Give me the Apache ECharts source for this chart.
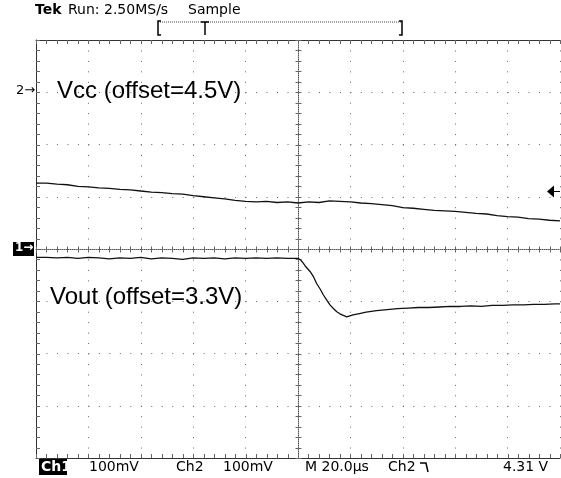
<!DOCTYPE html>
<html><head><meta charset="utf-8">
<script src="https://cdn.jsdelivr.net/npm/echarts@6/dist/echarts.min.js"></script>
<style>html,body{margin:0;padding:0;background:#fff}#c{width:561px;height:478px}</style>
</head><body><div id="c"></div>
<script>
// ---- data (time in microseconds, values in volts) ----
const vccTime = [-100,-96,-92,-88,-84,-80,-76,-72,-68,-64,-60,-56,-52,-48,-44,-40,-36,-32,-28,-24,-20,-16,-12,-8,-4,0,4,8,12,16,20,24,28,32,36,40,44,48,52,56,60,64,68,72,76,80,84,88,92,96,100];
const vccVolts = [4.326,4.326,4.324,4.323,4.320,4.319,4.317,4.316,4.314,4.313,4.311,4.309,4.308,4.306,4.305,4.302,4.300,4.298,4.296,4.293,4.291,4.290,4.291,4.289,4.290,4.288,4.290,4.289,4.292,4.291,4.290,4.288,4.287,4.285,4.283,4.279,4.278,4.276,4.274,4.273,4.272,4.270,4.268,4.267,4.264,4.262,4.261,4.258,4.257,4.255,4.254];
const voutTime = [-100,-96,-92,-88,-84,-80,-76,-72,-68,-64,-60,-56,-52,-48,-44,-40,-36,-32,-28,-24,-20,-16,-12,-8,-4,0,1,2,3,4.6,6,7.1,8.5,9.7,11,12.2,13.5,14.8,16,17.3,18.6,19.8,21,23,26,30,34,38,42,46,50,54,58,62,66,70,74,78,82,86,90,94,98,100];
const voutVolts = [3.284,3.284,3.283,3.284,3.282,3.284,3.283,3.281,3.283,3.282,3.284,3.281,3.283,3.282,3.280,3.283,3.282,3.283,3.281,3.283,3.282,3.283,3.282,3.283,3.282,3.282,3.279,3.273,3.266,3.257,3.246,3.234,3.223,3.212,3.202,3.193,3.186,3.180,3.176,3.173,3.170,3.172,3.174,3.176,3.179,3.182,3.184,3.186,3.187,3.188,3.188,3.189,3.190,3.190,3.191,3.190,3.192,3.192,3.193,3.193,3.194,3.194,3.195,3.195];
const timeRange = [-100, 100];     // 20 us/div, 10 div
const divRange = [-4, 4];          // 8 vertical divisions
const ch1Range = [2.9, 3.7];       // offset 3.3 V at centre, 100 mV/div
const ch2Range = [3.8, 4.6];       // offset 4.5 V at +3 div, 100 mV/div
const ch1Ref = 3.3, ch2Ref = 4.5, trigLevel = 4.31;
const minorPerDiv = 5;
const topTexts = {tek: 'Tek', run: 'Run: 2.50MS/s', mode: 'Sample'};
const bottomTexts = ['Ch1', '100mV', 'Ch2', '100mV', 'M 20.0\u00b5s', 'Ch2', '4.31 V'];
const traceLabels = ['Vcc (offset=4.5V)', 'Vout (offset=3.3V)'];

const GW = 524, GH = 418;
const chart = echarts.init(document.getElementById('c'));
const dark = '#333', dotc = '#666';
const F = 'DejaVu Sans';
const borderLine = {show:true, onZero:false, lineStyle:{color:dark, width:1}};
const centreLine = {show:true, onZero:false, lineStyle:{color:'#555', width:1, type:[1,1]}};
function xa(extra){ return Object.assign({type:'value', min:timeRange[0], max:timeRange[1], interval:20,
  axisLabel:{show:false}, axisTick:{show:false}, splitLine:{show:false}, axisLine:borderLine}, extra); }
function ya(extra){ return Object.assign({type:'value', min:divRange[0], max:divRange[1], interval:1,
  axisLabel:{show:false}, axisTick:{show:false}, splitLine:{show:false}, axisLine:borderLine}, extra); }

// graticule minor-tick positions (in axis units)
const xStep = (timeRange[1]-timeRange[0]) / 10 / minorPerDiv;
const yStep = 1 / minorPerDiv;
const xMinor = [], yMinor = [];
for (let i = 0; i <= 10*minorPerDiv; i++) xMinor.push([timeRange[0] + i*xStep, 0]);
for (let i = 0; i <= 8*minorPerDiv; i++) yMinor.push([0, divRange[0] + i*yStep]);
const ln = (x1,y1,x2,y2)=>({type:'line', shape:{x1,y1,x2,y2}, style:{stroke:dotc, lineWidth:1}});

chart.setOption({
  animation:false,
  backgroundColor:'#fff',
  grid:{left:36, top:40, width:GW, height:GH},
  xAxis:[
    xa({position:'bottom', splitLine:{show:true, lineStyle:{color:dotc, width:1, type:[1,9.45]}}}),
    xa({position:'top'}),
    xa({position:'bottom', offset:-GH/2, axisLine:centreLine})
  ],
  yAxis:[
    ya({position:'left', splitLine:{show:true, lineStyle:{color:dotc, width:1, type:[1,9.48]}}}),
    {type:'value', min:ch1Range[0], max:ch1Range[1], show:false},
    {type:'value', min:ch2Range[0], max:ch2Range[1], show:false},
    ya({position:'left', offset:-GW/2, axisLine:centreLine})
  ],
  series:[
    {type:'custom', xAxisIndex:0, yAxisIndex:0, clip:false, silent:true, data:xMinor,
     renderItem:(p, api)=>{
       const x = Math.round(api.coord([api.value(0), 0])[0]) + 0.5;
       const top = api.coord([timeRange[0], divRange[1]])[1], bot = api.coord([timeRange[0], divRange[0]])[1];
       const mid = api.coord([timeRange[0], 0])[1];
       return {type:'group', children:[ln(x, top, x, top+4), ln(x, bot, x, bot-4), ln(x, mid-2.5, x, mid+3.5)]};
     }},
    {type:'custom', xAxisIndex:0, yAxisIndex:0, clip:false, silent:true, data:yMinor,
     renderItem:(p, api)=>{
       const y = Math.round(api.coord([0, api.value(1)])[1]) + 0.5;
       const left = api.coord([timeRange[0], 0])[0], mid = api.coord([0, 0])[0];
       return {type:'group', children:[ln(left, y, left+4, y), ln(mid-2.5, y, mid+3.5, y)]};
     }},
    {type:'line', xAxisIndex:0, yAxisIndex:2, showSymbol:false, symbol:'none',
     lineStyle:{color:'#111', width:1.3}, data:vccTime.map((t,i)=>[t, vccVolts[i]])},
    {type:'line', xAxisIndex:0, yAxisIndex:1, showSymbol:false, symbol:'none',
     lineStyle:{color:'#111', width:1.3}, data:voutTime.map((t,i)=>[t, voutVolts[i]])}
  ]
});

const y2 = chart.convertToPixel({yAxisIndex:2}, ch2Ref);
const y1 = chart.convertToPixel({yAxisIndex:1}, ch1Ref);
const yT = chart.convertToPixel({yAxisIndex:2}, trigLevel);
const xR = chart.convertToPixel({xAxisIndex:0}, timeRange[1]);
const st = (x,y,text,extra)=>({type:'text', left:x, top:y, style:Object.assign({text:text, fill:'#000', font:'13px "'+F+'"', textVerticalAlign:'top'}, extra||{})});
const g = [];
// top status line
g.push(st(35, 3, topTexts.tek, {font:'bold 14px "'+F+'"'}));
g.push(st(68, 3, topTexts.run, {font:'14px "'+F+'"'}));
g.push(st(188, 3, topTexts.mode, {font:'14px "'+F+'"'}));
// record bar
g.push({type:'line', shape:{x1:158, y1:22, x2:401, y2:22}, style:{stroke:'#444', lineWidth:1, lineDash:[1,1]}});
g.push({type:'polyline', shape:{points:[[161,21],[158,21],[158,35],[161,35]]}, style:{stroke:'#000', lineWidth:1.5, fill:null}});
g.push({type:'polyline', shape:{points:[[399,21],[402,21],[402,35],[399,35]]}, style:{stroke:'#000', lineWidth:1.5, fill:null}});
g.push({type:'line', shape:{x1:201, y1:22, x2:209, y2:22}, style:{stroke:'#000', lineWidth:1.5}});
g.push({type:'line', shape:{x1:205, y1:22, x2:205, y2:35}, style:{stroke:'#000', lineWidth:1.5}});
// channel markers
g.push(st(16, y2-8, '2\u2192', {font:'13px "'+F+'"'}));
g.push({type:'rect', shape:{x:13, y:y1-7, width:21, height:14}, style:{fill:'#000'}});
g.push(st(15, y1-7, '1\u2192', {font:'bold 12px "'+F+'"', fill:'#fff'}));
// trigger level marker
g.push({type:'polygon', shape:{points:[[xR-13,yT],[xR-6,yT-6],[xR-6,yT+6]]}, style:{fill:'#000'}});
g.push({type:'line', shape:{x1:xR-6, y1:yT, x2:xR, y2:yT}, style:{stroke:'#000', lineWidth:1}});
// trace labels
g.push({type:'text', left:57, top:y2-13, style:{text:traceLabels[0], font:'24px "Liberation Sans"', fill:'#000'}});
g.push({type:'text', left:50, top:y1+36, style:{text:traceLabels[1], font:'24px "Liberation Sans"', fill:'#000'}});
// bottom status line
const by = 460;
g.push({type:'rect', shape:{x:39, y:by-1, width:28, height:16}, style:{fill:'#000'}});
g.push(st(41, by, bottomTexts[0], {font:'bold 14px "'+F+'"', fill:'#fff'}));
g.push(st(89, by, bottomTexts[1], {font:'14px "'+F+'"'}));
g.push(st(176, by, bottomTexts[2], {font:'14px "'+F+'"'}));
g.push(st(223, by, bottomTexts[3], {font:'14px "'+F+'"'}));
g.push(st(305, by, bottomTexts[4], {font:'14px "'+F+'"'}));
g.push(st(388, by, bottomTexts[5], {font:'14px "'+F+'"'}));
g.push({type:'polyline', shape:{points:[[420,by+3],[426,by+3],[428,by+12]]}, style:{stroke:'#000', lineWidth:1.5, fill:null}});
g.push(st(503, by, bottomTexts[6], {font:'14px "'+F+'"'}));
chart.setOption({graphic:g});
</script></body></html>
